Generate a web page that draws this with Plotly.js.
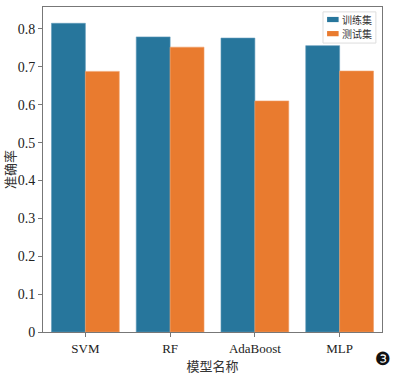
<!DOCTYPE html>
<html><head><meta charset="utf-8">
<script src="https://cdn.plot.ly/plotly-3.0.1.min.js"></script>
<style>html,body{margin:0;padding:0;background:#fff}</style>
</head><body>
<div id="chart" style="width:395px;height:375px"></div>
<script>
var categories = ['SVM', 'RF', 'AdaBoost', 'MLP'];
var trainValues = [0.815, 0.779, 0.776, 0.756];
var testValues = [0.688, 0.752, 0.610, 0.689];
var seriesNames = ['训练集', '测试集'];
var seriesColors = ['#27769c', '#e97b2f'];
var yTickVals = [0, 0.1, 0.2, 0.3, 0.4, 0.5, 0.6, 0.7, 0.8];
var yTickText = ['0', '0.1', '0.2', '0.3', '0.4', '0.5', '0.6', '0.7', '0.8'];

var serif = 'Liberation Serif, serif';
var cjk = 'Noto Sans CJK SC, sans-serif';

var data = [
  {type: 'bar', x: categories, y: trainValues, name: seriesNames[0],
   marker: {color: seriesColors[0], line: {color: '#5f9bbb', width: 0.6}}},
  {type: 'bar', x: categories, y: testValues, name: seriesNames[1],
   marker: {color: seriesColors[1], line: {color: '#f0a06a', width: 0.6}}}
];

// legend drawn as shapes + text in paper coordinates
var legendRows = [0.9615, 0.918];
var shapes = [
  {type: 'rect', xref: 'paper', yref: 'paper', x0: 0.826, x1: 0.982, y0: 0.889, y1: 0.985,
   line: {color: '#dddddd', width: 1}, fillcolor: '#fff'}
];
var annotations = [];
seriesNames.forEach(function (n, i) {
  shapes.push({type: 'rect', xref: 'paper', yref: 'paper', x0: 0.838, x1: 0.872,
    y0: legendRows[i] - 0.008, y1: legendRows[i] + 0.008,
    line: {width: 0}, fillcolor: seriesColors[i]});
  annotations.push({text: n, xref: 'paper', yref: 'paper', x: 0.880, y: legendRows[i],
    xanchor: 'left', yanchor: 'middle', showarrow: false, borderpad: 0,
    font: {family: cjk, size: 10, color: '#333'}});
});
annotations.push({text: '❸', xref: 'paper', yref: 'paper', x: 1.003, y: -0.08,
  xanchor: 'center', yanchor: 'middle', showarrow: false,
  font: {family: 'DejaVu Sans, sans-serif', size: 18, color: '#111'}});

var layout = {
  width: 395, height: 375,
  margin: {l: 43, r: 13, t: 7, b: 43},
  paper_bgcolor: '#fff', plot_bgcolor: '#fff',
  barmode: 'group', bargap: 0.2, bargroupgap: 0,
  showlegend: false,
  xaxis: {
    range: [-0.5, 3.5], showgrid: false, zeroline: false,
    showline: true, linecolor: '#777', linewidth: 1, mirror: true,
    ticks: 'outside', ticklen: 4, tickcolor: '#777',
    tickfont: {family: serif, size: 13, color: '#222'},
    title: {text: '模型名称', font: {family: cjk, size: 13, color: '#333'}, standoff: 6}
  },
  yaxis: {
    range: [0, 0.858], showgrid: false, zeroline: false,
    showline: true, linecolor: '#777', linewidth: 1, mirror: true,
    ticks: 'outside', ticklen: 4, tickcolor: '#777',
    tickvals: yTickVals, ticktext: yTickText,
    tickfont: {family: serif, size: 14, color: '#222'},
    title: {text: '准确率', font: {family: cjk, size: 13, color: '#333'}, standoff: 5}
  },
  shapes: shapes,
  annotations: annotations
};

Plotly.newPlot('chart', data, layout, {displayModeBar: false, staticPlot: true});
</script>
</body></html>
